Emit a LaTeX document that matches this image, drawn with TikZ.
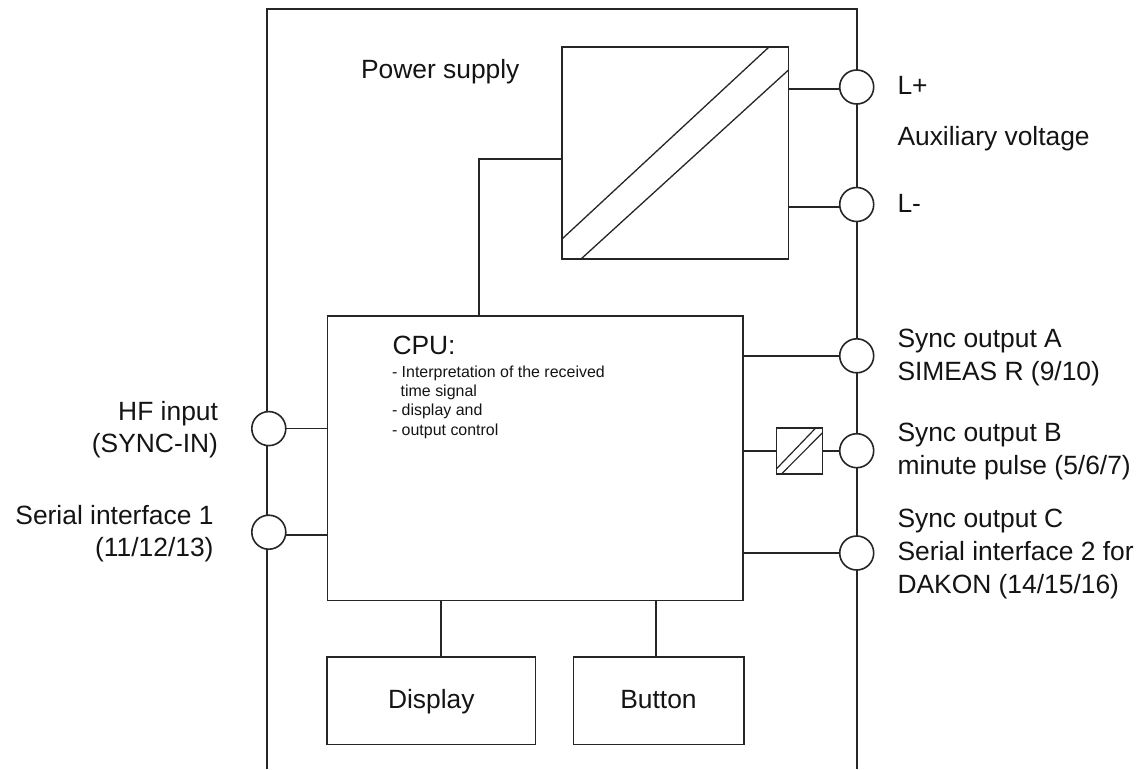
\documentclass[tikz,border=0pt]{standalone}
\usepackage{fontspec}
\setmainfont{Liberation Sans}
\tikzset{
  ln/.style={line width=1.6pt,draw=black!85},
  blk/.style={ln,rectangle,inner sep=0pt,outer sep=0pt,fill=white},
  port/.style={ln,circle,minimum size=34pt,inner sep=0pt,outer sep=0pt,fill=white},
  lab/.style={inner sep=0pt,outer sep=0pt,font=\fontsize{26.4}{32.7}\selectfont,text=black!92},
  labl/.style={lab,anchor=base west,align=left},
  labr/.style={lab,anchor=base east,align=right,font=\fontsize{26.4}{31.6}\selectfont},
  small/.style={inner sep=0pt,outer sep=0pt,anchor=base west,align=left,font=\fontsize{15.95}{19.3}\selectfont,text=black!92},
}
\begin{document}
\begin{tikzpicture}[x=1pt,y=-1pt]
\useasboundingbox (0,0) rectangle (1141,769);
% frame
\coordinate (fbl) at (266.7,769);
\coordinate (ftl) at (266.7,9);
\coordinate (ftr) at (856.7,9);
\coordinate (fbr) at (856.7,769);
\draw[ln] (fbl) -- (ftl) -- (ftr) -- (fbr);
% blocks
\node[blk,minimum width=226.5pt,minimum height=212pt] (psu) at (675.2,153) {};
\node[blk,minimum width=415.5pt,minimum height=284.5pt] (cpu) at (535.2,458.3) {};
\node[blk,minimum width=208.7pt,minimum height=87.6pt] (disp) at (431.3,700.5) {};
\node[blk,minimum width=170.4pt,minimum height=87.6pt] (btn) at (658.5,700.5) {};
\node[blk,minimum width=46pt,minimum height=46pt] (conv) at (799.3,450.7) {};
% ports
\node[port] (lp) at (856.7,87) {};
\node[port] (lm) at (856.7,204.5) {};
\node[port] (a) at (856.7,355.8) {};
\node[port] (b) at (856.7,450.7) {};
\node[port] (c) at (856.7,553) {};
\node[port] (hf) at (268.8,428.6) {};
\node[port] (ser) at (268.8,532.2) {};
% stub ends
\coordinate (slp) at (840,88.7);
\coordinate (slm) at (840,206.7);
\coordinate (sser) at (285.8,535);
\coordinate (psuin) at (479,159);
\coordinate (dtop) at (440.7,657);
\coordinate (btop) at (656,657);
% connectors
\draw[ln] (psu.east |- slp) -- (slp);
\draw[ln] (psu.east |- slm) -- (slm);
\draw[ln] (cpu.north -| psuin) -- (psuin) -- (psu.west |- psuin);
\draw[ln] (cpu.east |- a.west) -- (a.west);
\draw[ln] (cpu.east |- conv.west) -- (conv.west);
\draw[ln] (conv.east) -- (b.west);
\draw[ln] (cpu.east |- c.west) -- (c.west);
\draw[ln] (hf.east) -- (cpu.west |- hf.east);
\draw[ln] (sser) -- (cpu.west |- sser);
\draw[ln] (cpu.south -| dtop) -- (disp.north -| dtop);
\draw[ln] (cpu.south -| btop) -- (btn.north -| btop);
% converter symbols
\draw[ln,line width=1.3pt] (562,239) -- (769,47);
\draw[ln,line width=1.3pt] (581,259) -- (788.5,70);
\draw[ln,line width=1.2pt] (776.3,469) -- (816,427.7);
\draw[ln,line width=1.2pt] (781.7,473.7) -- (822.3,433);
% labels
\node[lab,anchor=base west] (tpsu) at (361,78.5) {Power supply};
\node[lab,anchor=base west] (tlp) at (897.5,94.3) {L+};
\node[lab,anchor=base west] (taux) at (897.5,145) {Auxiliary voltage};
\node[lab,anchor=base west] (tlm) at (897.5,212.3) {L-};
\node[labl] (ta) at (897.5,380) {Sync output A\\SIMEAS R (9/10)};
\node[labl] (tb) at (897.5,474.3) {Sync output B\\minute pulse (5/6/7)};
\node[labl] (tc) at (897.5,593.3) {Sync output C\\Serial interface 2 for\\DAKON (14/15/16)};
\node[labr] (thf) at (218,452.3) {HF input\\(SYNC-IN)};
\node[labr] (tser) at (213.5,556) {Serial interface 1\\(11/12/13)};
\node[lab,anchor=base west] (tcpu) at (392.5,354.3) {CPU:};
\node[small] (tcd) at (392,435.2) {- Interpretation of the received\\\hspace*{8.7pt}time signal\\- display and\\- output control};
\node[lab,anchor=base] (tdisp) at (431.3,708.3) {Display};
\node[lab,anchor=base] (tbtn) at (658.5,708.3) {Button};
\end{tikzpicture}
\end{document}
